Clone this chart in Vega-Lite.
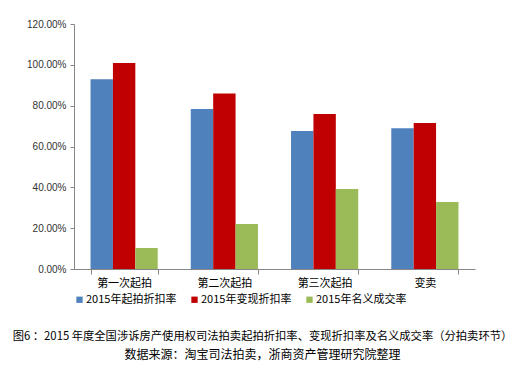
{
  "$schema": "https://vega.github.io/schema/vega-lite/v6.json",
  "width": 401,
  "height": 245,
  "autosize": {"type": "none"},
  "padding": {"left": 74, "top": 24, "right": 57, "bottom": 100},
  "background": "white",
  "title": {
    "text": "图6 ：2015 年度全国涉诉房产使用权司法拍卖起拍折扣率、变现折扣率及名义成交率（分拍卖环节）",
    "subtitle": "数据来源：淘宝司法拍卖，浙商资产管理研究院整理",
    "orient": "bottom",
    "anchor": "middle",
    "font": "Noto Sans CJK SC",
    "fontSize": 11.3,
    "fontWeight": "normal",
    "color": "#000000",
    "subtitleFont": "Noto Sans CJK SC",
    "subtitleFontSize": 12,
    "subtitleColor": "#000000",
    "subtitlePadding": 8,
    "offset": 26,
    "dx": -12
  },
  "data": {
    "values": [
      {"stage": "第一次起拍", "series": "2015年起拍折扣率", "rate": 0.929},
      {"stage": "第一次起拍", "series": "2015年变现折扣率", "rate": 1.009},
      {"stage": "第一次起拍", "series": "2015年名义成交率", "rate": 0.103},
      {"stage": "第二次起拍", "series": "2015年起拍折扣率", "rate": 0.784},
      {"stage": "第二次起拍", "series": "2015年变现折扣率", "rate": 0.86},
      {"stage": "第二次起拍", "series": "2015年名义成交率", "rate": 0.22},
      {"stage": "第三次起拍", "series": "2015年起拍折扣率", "rate": 0.676},
      {"stage": "第三次起拍", "series": "2015年变现折扣率", "rate": 0.759},
      {"stage": "第三次起拍", "series": "2015年名义成交率", "rate": 0.392},
      {"stage": "变卖", "series": "2015年起拍折扣率", "rate": 0.69},
      {"stage": "变卖", "series": "2015年变现折扣率", "rate": 0.715},
      {"stage": "变卖", "series": "2015年名义成交率", "rate": 0.328}
    ]
  },
  "mark": {"type": "bar"},
  "encoding": {
    "x": {
      "field": "stage",
      "type": "nominal",
      "sort": ["第一次起拍", "第二次起拍", "第三次起拍", "变卖"],
      "scale": {"paddingInner": 0.33, "paddingOuter": 0.165},
      "axis": {
        "title": null,
        "labelAngle": 0,
        "labelFont": "Noto Sans CJK SC",
        "labelFontSize": 11,
        "labelColor": "#000000",
        "labelPadding": 3,
        "domainColor": "#868686",
        "tickColor": "#868686",
        "tickSize": 5,
        "tickBand": "extent"
      }
    },
    "xOffset": {
      "field": "series",
      "type": "nominal",
      "sort": ["2015年起拍折扣率", "2015年变现折扣率", "2015年名义成交率"],
      "scale": {"paddingInner": 0, "paddingOuter": 0}
    },
    "y": {
      "field": "rate",
      "type": "quantitative",
      "scale": {"domain": [0, 1.2], "nice": false},
      "axis": {
        "title": null,
        "format": ".2%",
        "values": [0, 0.2, 0.4, 0.6, 0.8, 1.0, 1.2],
        "grid": false,
        "labelFont": "Liberation Sans",
        "labelFontSize": 10,
        "labelColor": "#333333",
        "labelPadding": 4,
        "domainColor": "#868686",
        "tickColor": "#868686",
        "tickSize": 4
      }
    },
    "color": {
      "field": "series",
      "type": "nominal",
      "scale": {
        "domain": ["2015年起拍折扣率", "2015年变现折扣率", "2015年名义成交率"],
        "range": ["#4F81BD", "#C00000", "#9BBB59"]
      },
      "legend": {
        "title": null,
        "orient": "bottom",
        "direction": "horizontal",
        "symbolType": "square",
        "symbolSize": 40,
        "symbolStrokeWidth": 0,
        "labelFont": "Noto Sans CJK SC",
        "labelFontSize": 11,
        "labelColor": "#000000",
        "labelOffset": 1,
        "columnPadding": 12,
        "offset": 6
      }
    }
  },
  "config": {
    "view": {"stroke": null}
  }
}
